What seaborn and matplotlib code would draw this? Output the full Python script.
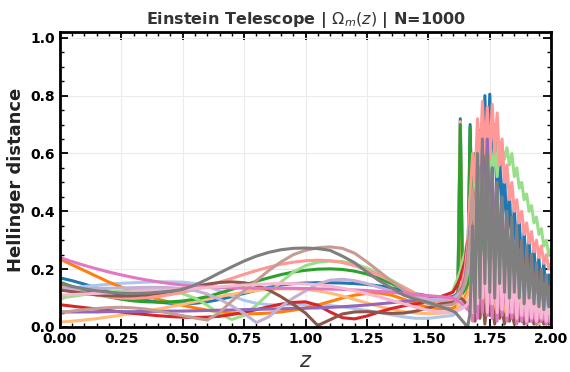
import matplotlib
matplotlib.use("Agg")
import matplotlib.pyplot as plt
from matplotlib.ticker import MultipleLocator
import numpy as np
import pandas as pd
import seaborn as sns

# Redshift samples: smooth region (0.05 steps) and high-z region (0.01 steps)
z_smooth = [0.00, 0.05, 0.10, 0.15, 0.20, 0.25, 0.30, 0.35, 0.40, 0.45, 0.50, 0.55,
            0.60, 0.65, 0.70, 0.75, 0.80, 0.85, 0.90, 0.95, 1.00, 1.05, 1.10, 1.15,
            1.20, 1.25, 1.30, 1.35, 1.40, 1.45, 1.50, 1.55]
z_tail = [1.60, 1.61, 1.62, 1.63, 1.64, 1.65, 1.66, 1.67, 1.68, 1.69, 1.70, 1.71,
          1.72, 1.73, 1.74, 1.75, 1.76, 1.77, 1.78, 1.79, 1.80, 1.81, 1.82, 1.83,
          1.84, 1.85, 1.86, 1.87, 1.88, 1.89, 1.90, 1.91, 1.92, 1.93, 1.94, 1.95,
          1.96, 1.97, 1.98, 1.99, 2.00]

# Hellinger distance per realisation (smooth part, then high-z part)
h01 = [0.170,0.160,0.148,0.135,0.122,0.110,0.100,0.092,0.086,0.082,0.080,0.082,0.087,0.095,0.105,0.116,0.127,0.137,0.145,0.150,0.152,0.153,0.153,0.152,0.150,0.147,0.142,0.135,0.125,0.115,0.107,0.102,
       0.105,0.110,0.118,0.720,0.125,0.135,0.150,0.700,0.300,0.560,0.340,0.680,0.460,0.800,0.550,0.805,0.500,0.700,0.440,0.610,0.360,0.540,0.300,0.470,0.260,0.420,0.220,0.380,0.200,0.330,0.170,0.300,0.150,0.270,0.140,0.240,0.120,0.220,0.100,0.180,0.120]
h02 = [0.130,0.135,0.140,0.144,0.148,0.151,0.153,0.155,0.156,0.156,0.155,0.150,0.140,0.125,0.108,0.092,0.082,0.077,0.076,0.077,0.078,0.077,0.074,0.070,0.064,0.057,0.050,0.042,0.035,0.030,0.030,0.035,
       0.040,0.048,0.058,0.070,0.085,0.100,0.130,0.220,0.400,0.180,0.520,0.280,0.580,0.240,0.480,0.200,0.440,0.150,0.350,0.120,0.300,0.100,0.250,0.080,0.220,0.060,0.180,0.050,0.150,0.060,0.140,0.040,0.120,0.050,0.100,0.030,0.100,0.040,0.080,0.030,0.060]
h03 = [0.235,0.215,0.195,0.175,0.155,0.138,0.122,0.108,0.096,0.085,0.075,0.066,0.058,0.052,0.048,0.046,0.046,0.048,0.052,0.058,0.066,0.076,0.088,0.100,0.110,0.116,0.117,0.110,0.096,0.080,0.068,0.062,
       0.065,0.070,0.080,0.600,0.095,0.105,0.120,0.150,0.300,0.080,0.450,0.120,0.350,0.060,0.300,0.100,0.250,0.050,0.200,0.080,0.150,0.040,0.120,0.070,0.100,0.030,0.120,0.050,0.090,0.020,0.080,0.060,0.100,0.030,0.070,0.020,0.060,0.040,0.050,0.020,0.040]
h04 = [0.017,0.020,0.024,0.029,0.035,0.041,0.048,0.055,0.062,0.070,0.078,0.087,0.096,0.105,0.113,0.120,0.126,0.130,0.132,0.132,0.130,0.125,0.117,0.107,0.095,0.083,0.071,0.061,0.053,0.048,0.046,0.048,
       0.050,0.056,0.065,0.710,0.080,0.090,0.110,0.140,0.250,0.100,0.400,0.080,0.300,0.050,0.250,0.090,0.200,0.040,0.150,0.070,0.120,0.030,0.100,0.060,0.080,0.020,0.090,0.040,0.070,0.020,0.060,0.050,0.080,0.020,0.050,0.010,0.050,0.030,0.040,0.010,0.030]
h05 = [0.155,0.140,0.126,0.114,0.104,0.096,0.090,0.087,0.086,0.087,0.090,0.096,0.105,0.117,0.130,0.144,0.158,0.170,0.181,0.190,0.196,0.200,0.201,0.199,0.193,0.183,0.168,0.150,0.130,0.110,0.092,0.085,
       0.090,0.098,0.108,0.700,0.118,0.130,0.150,0.690,0.250,0.600,0.300,0.500,0.200,0.450,0.150,0.400,0.100,0.300,0.080,0.250,0.060,0.200,0.050,0.150,0.040,0.120,0.030,0.100,0.020,0.080,0.030,0.070,0.020,0.060,0.010,0.050,0.020,0.050,0.010,0.040,0.020]
h06 = [0.100,0.106,0.112,0.117,0.121,0.124,0.126,0.127,0.127,0.125,0.115,0.100,0.075,0.045,0.026,0.040,0.075,0.115,0.155,0.190,0.212,0.224,0.228,0.226,0.218,0.204,0.185,0.162,0.138,0.115,0.095,0.090,
       0.125,0.148,0.170,0.195,0.230,0.260,0.300,0.450,0.320,0.560,0.360,0.600,0.420,0.640,0.460,0.660,0.500,0.640,0.520,0.640,0.620,0.580,0.620,0.560,0.600,0.520,0.550,0.480,0.500,0.440,0.460,0.400,0.420,0.360,0.380,0.320,0.340,0.280,0.300,0.250,0.270]
h07 = [0.077,0.072,0.067,0.062,0.057,0.052,0.047,0.043,0.039,0.036,0.034,0.033,0.034,0.037,0.043,0.051,0.060,0.070,0.079,0.085,0.087,0.075,0.052,0.032,0.028,0.038,0.052,0.064,0.073,0.080,0.088,0.105,
       0.120,0.135,0.150,0.170,0.200,0.230,0.300,0.260,0.480,0.300,0.600,0.350,0.650,0.400,0.560,0.350,0.500,0.300,0.450,0.280,0.400,0.250,0.350,0.220,0.320,0.200,0.300,0.180,0.280,0.160,0.250,0.150,0.220,0.140,0.200,0.120,0.180,0.110,0.160,0.100,0.140]
h08 = [0.140,0.128,0.118,0.110,0.104,0.100,0.099,0.101,0.105,0.112,0.120,0.130,0.142,0.155,0.168,0.182,0.195,0.207,0.217,0.224,0.229,0.231,0.229,0.223,0.212,0.197,0.179,0.158,0.136,0.114,0.094,0.085,
       0.090,0.100,0.115,0.135,0.160,0.200,0.280,0.450,0.600,0.500,0.720,0.560,0.780,0.600,0.760,0.580,0.770,0.600,0.740,0.560,0.650,0.500,0.560,0.440,0.500,0.400,0.440,0.360,0.400,0.320,0.360,0.290,0.330,0.260,0.300,0.240,0.280,0.220,0.250,0.200,0.220]
h09 = [0.052,0.052,0.052,0.052,0.053,0.053,0.053,0.054,0.054,0.055,0.055,0.056,0.057,0.058,0.059,0.060,0.061,0.062,0.063,0.064,0.065,0.066,0.068,0.070,0.073,0.076,0.080,0.084,0.088,0.092,0.096,0.100,
       0.102,0.108,0.115,0.125,0.140,0.170,0.240,0.350,0.450,0.300,0.550,0.350,0.620,0.400,0.650,0.350,0.550,0.300,0.480,0.250,0.420,0.220,0.360,0.200,0.300,0.180,0.260,0.150,0.220,0.130,0.200,0.120,0.180,0.100,0.160,0.090,0.150,0.080,0.130,0.070,0.100]
h10 = [0.130,0.131,0.132,0.133,0.134,0.135,0.136,0.137,0.137,0.136,0.133,0.126,0.114,0.096,0.073,0.047,0.015,0.035,0.070,0.100,0.125,0.148,0.162,0.165,0.160,0.150,0.137,0.124,0.112,0.102,0.095,0.095,
       0.098,0.105,0.112,0.120,0.130,0.150,0.190,0.280,0.350,0.220,0.400,0.250,0.450,0.280,0.400,0.220,0.360,0.200,0.330,0.180,0.300,0.170,0.280,0.150,0.260,0.140,0.240,0.130,0.220,0.120,0.200,0.110,0.180,0.100,0.170,0.090,0.160,0.090,0.150,0.080,0.140]
h11 = [0.128,0.122,0.116,0.111,0.108,0.107,0.108,0.111,0.116,0.123,0.131,0.140,0.148,0.154,0.156,0.153,0.144,0.128,0.105,0.078,0.048,0.005,0.025,0.045,0.052,0.053,0.050,0.047,0.048,0.055,0.066,0.080,
       0.085,0.090,0.095,0.100,0.095,0.085,0.070,0.050,0.100,0.020,0.150,0.030,0.120,0.010,0.100,0.040,0.080,0.010,0.090,0.030,0.060,0.010,0.070,0.020,0.050,0.010,0.060,0.020,0.040,0.010,0.050,0.020,0.040,0.010,0.030,0.020,0.040,0.010,0.030,0.010,0.020]
h12 = [0.050,0.055,0.060,0.064,0.067,0.068,0.066,0.062,0.055,0.047,0.039,0.031,0.024,0.050,0.090,0.125,0.160,0.195,0.225,0.250,0.265,0.274,0.277,0.272,0.255,0.225,0.192,0.158,0.127,0.100,0.080,0.072,
       0.078,0.086,0.096,0.110,0.130,0.160,0.220,0.320,0.480,0.300,0.580,0.350,0.550,0.300,0.500,0.280,0.450,0.250,0.400,0.220,0.360,0.200,0.320,0.180,0.280,0.160,0.250,0.150,0.220,0.130,0.200,0.120,0.190,0.110,0.170,0.100,0.160,0.090,0.150,0.080,0.130]
h13 = [0.240,0.226,0.213,0.201,0.190,0.180,0.171,0.163,0.156,0.150,0.145,0.141,0.138,0.136,0.135,0.134,0.134,0.134,0.134,0.134,0.133,0.132,0.131,0.130,0.128,0.126,0.123,0.120,0.116,0.112,0.108,0.105,
       0.100,0.095,0.090,0.085,0.078,0.070,0.060,0.080,0.020,0.200,0.030,0.250,0.050,0.280,0.040,0.220,0.030,0.250,0.020,0.200,0.040,0.180,0.020,0.150,0.030,0.120,0.010,0.100,0.020,0.090,0.010,0.080,0.020,0.060,0.010,0.050,0.020,0.040,0.010,0.030,0.010]
h14 = [0.110,0.112,0.114,0.116,0.118,0.120,0.122,0.124,0.126,0.128,0.130,0.133,0.136,0.139,0.142,0.145,0.147,0.149,0.150,0.150,0.149,0.146,0.141,0.134,0.125,0.115,0.104,0.092,0.080,0.068,0.058,0.052,
       0.052,0.054,0.056,0.060,0.065,0.070,0.080,0.100,0.050,0.300,0.080,0.350,0.100,0.300,0.050,0.330,0.080,0.280,0.050,0.300,0.060,0.250,0.040,0.220,0.050,0.200,0.030,0.180,0.040,0.150,0.020,0.140,0.030,0.120,0.020,0.100,0.030,0.090,0.020,0.080,0.020]
h15 = [0.150,0.140,0.132,0.125,0.120,0.117,0.116,0.117,0.120,0.124,0.130,0.145,0.165,0.187,0.208,0.228,0.245,0.258,0.267,0.272,0.273,0.271,0.265,0.245,0.222,0.190,0.160,0.135,0.110,0.095,0.085,0.070,
       0.055,0.050,0.040,0.030,0.020,0.010,0.000,0.050,0.350,0.050,0.600,0.100,0.650,0.150,0.600,0.120,0.550,0.100,0.500,0.150,0.450,0.120,0.400,0.100,0.380,0.120,0.350,0.100,0.300,0.080,0.280,0.100,0.250,0.080,0.220,0.070,0.200,0.060,0.180,0.070,0.150]

runs = [h01, h02, h03, h04, h05, h06, h07, h08, h09, h10, h11, h12, h13, h14, h15]
z_all = z_smooth + z_tail

frames = []
for i, h in enumerate(runs):
    frames.append(pd.DataFrame({"z": z_all, "H": h, "run": f"r{i:02d}"}))
df = pd.concat(frames, ignore_index=True)

sns.set_style("ticks")
plt.rcParams["font.family"] = ["DejaVu Sans"]

fig = plt.figure(figsize=(5.7, 3.72), dpi=100)
ax = fig.add_axes([0.105, 0.121, 0.862, 0.793])

palette = sns.color_palette("tab20", 20)[:15]
sns.lineplot(data=df, x="z", y="H", hue="run", palette=palette, estimator=None,
             sort=False, linewidth=2.2, legend=False, ax=ax)

ax.set_xlim(0, 2)
ax.set_ylim(0, 1.02)
ax.xaxis.set_major_locator(MultipleLocator(0.25))
ax.xaxis.set_minor_locator(MultipleLocator(0.05))
ax.yaxis.set_major_locator(MultipleLocator(0.2))
ax.yaxis.set_minor_locator(MultipleLocator(0.05))
ax.grid(True, which="major", color="#ebebeb", linewidth=0.8)
ax.set_axisbelow(True)

ax.tick_params(which="both", direction="in", top=True, right=True, colors="black")
ax.tick_params(which="major", length=6, width=1.3, labelsize=10)
ax.tick_params(which="minor", length=3, width=1.0)
for lab in ax.get_xticklabels() + ax.get_yticklabels():
    lab.set_fontweight("bold")
for sp in ax.spines.values():
    sp.set_linewidth(2)
    sp.set_color("black")

ax.set_xlabel("$z$", fontsize=15, color="#333333")
ax.set_ylabel("Hellinger distance", fontsize=13, fontweight="bold", color="#222222")
ax.set_title(r"Einstein Telescope | $\Omega_m(z)$ | N=1000", fontsize=11.5,
             fontweight="bold", color="#333333")

fig.savefig("out.png", dpi=100)
